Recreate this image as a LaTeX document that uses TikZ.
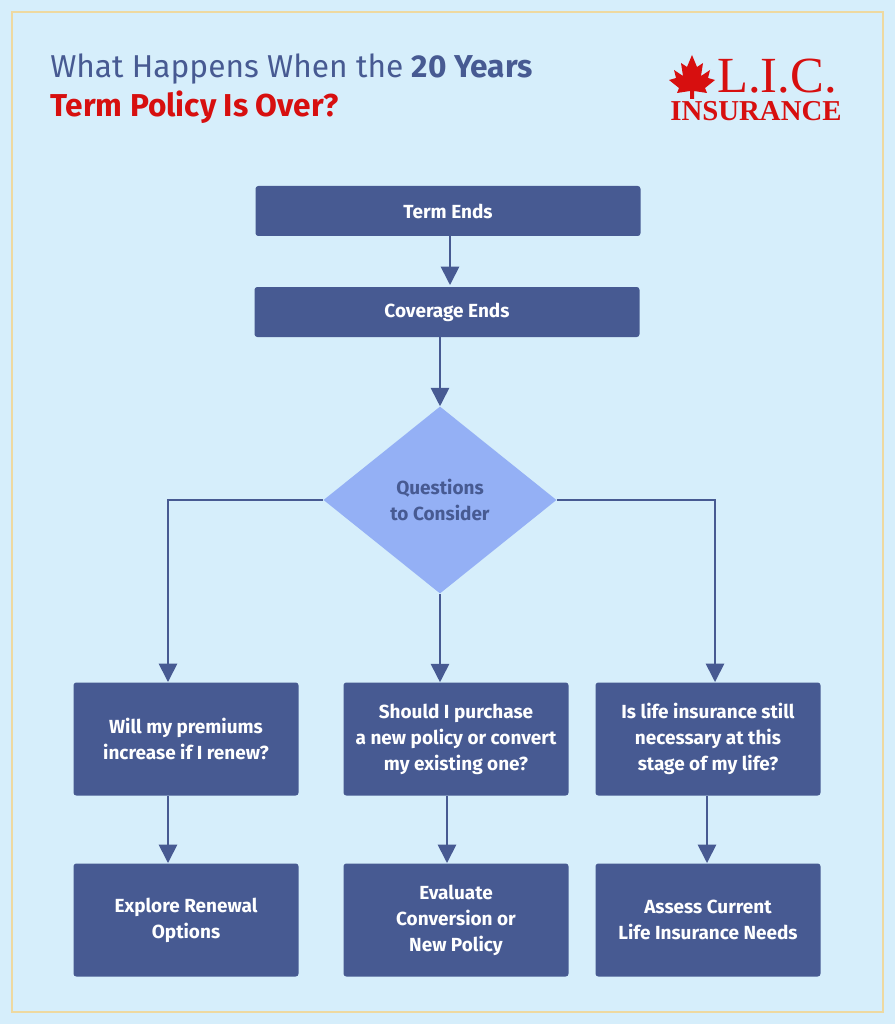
\documentclass[tikz,border=0pt]{standalone}
\usepackage{fontspec}
\setmainfont{Fira Sans}
\newfontfamily\logofont{Liberation Serif}
\usetikzlibrary{shapes.geometric, arrows.meta}
\definecolor{bgBlue}{HTML}{D6EEFB}
\definecolor{frameGold}{HTML}{EED9A0}
\definecolor{boxBlue}{HTML}{475A92}
\definecolor{diaBlue}{HTML}{94B0F5}
\definecolor{licRed}{HTML}{D70F0F}
\tikzset{
  stepbox/.style={rectangle, fill=boxBlue, rounded corners=2pt, text=white, font=\bfseries\fontsize{13.5}{18.5}\selectfont, align=center},
  flow/.style={draw=boxBlue, line width=1.2pt, -{Triangle[length=13pt,width=13pt]}}
}
\begin{document}
\begin{tikzpicture}[x=0.025cm, y=-0.025cm]
  \fill[bgBlue] (0,0) rectangle (895,1024);
  \draw[frameGold, line width=1pt] (12,12) rectangle (883,1012);
  \useasboundingbox (0,0) rectangle (895,1024);
  % title
  \node[anchor=base west, text=boxBlue, font=\fontsize{22.5}{26}\selectfont, inner sep=0pt] (title1) at (50,78) {What Happens When the \textbf{20 Years}};
  \node[anchor=base west, text=licRed, font=\bfseries\fontsize{22.5}{26}\selectfont, inner sep=0pt] (title2) at (50,117) {Term Policy Is Over?};
  % logo
  \fill[licRed] (692,55) -- (697,67) -- (703,63) -- (701,76) -- (710,70) -- (708,78) -- (715,80) -- (705,88) -- (707,93) -- (694,91) -- (694,99) -- (690,99) -- (690,91) -- (677,93) -- (679,88) -- (669,80) -- (676,78) -- (674,70) -- (683,76) -- (681,63) -- (687,67) -- cycle;
  \node[anchor=base west, text=licRed, font=\logofont\fontsize{36}{36}\selectfont, inner sep=0pt, text depth=0pt] (logo1) at (717,93) {L.I.C.};
  \node[anchor=base west, text=licRed, font=\logofont\bfseries\fontsize{20.5}{21}\selectfont, inner sep=0pt, text height=14pt] (logo2) at (670,121) {INSURANCE};
  % flow
  \node[stepbox, minimum width=385*0.025cm, minimum height=50*0.025cm] (term) at (448,211) {Term Ends};
  \node[stepbox, minimum width=385*0.025cm, minimum height=50*0.025cm] (cover) at (447,312) {Coverage Ends};
  \node[diamond, fill=diaBlue, text=boxBlue, font=\bfseries\fontsize{13.5}{18.5}\selectfont, align=center, minimum width=233*0.025cm, minimum height=187*0.025cm, inner sep=0pt, aspect=1.25] (quest) at (440,500) {Questions\\to Consider};
  \foreach \x/\name/\txt in {186/qa/{Will my premiums\\increase if I renew?}, 456/qb/{Should I purchase\\a new policy or convert\\my existing one?}, 708/qc/{Is life insurance still\\necessary at this\\stage of my life?}}
    \node[stepbox, minimum width=225*0.025cm, minimum height=113*0.025cm] (\name) at (\x,739) {\txt};
  \foreach \x/\name/\txt in {186/ra/{Explore Renewal\\Options}, 456/rb/{Evaluate\\Conversion or\\New Policy}, 708/rc/{Assess Current\\Life Insurance Needs}}
    \node[stepbox, minimum width=225*0.025cm, minimum height=113*0.025cm] (\name) at (\x,920) {\txt};
  \draw[flow] (term.south -| 450,0) -- (450,285);
  \draw[flow] (cover.south -| 440,0) -- (quest.north);
  \draw[flow] (quest.west) -| (168,682);
  \draw[flow] (quest.south) -- (qb.north -| quest.south);
  \draw[flow] (quest.east) -| (715,682);
  \draw[flow] (qa.south -| 168,0) -- (168,863);
  \draw[flow] (qb.south -| 447,0) -- (447,863);
  \draw[flow] (qc.south -| 707,0) -- (707,863);
\end{tikzpicture}
\end{document}
